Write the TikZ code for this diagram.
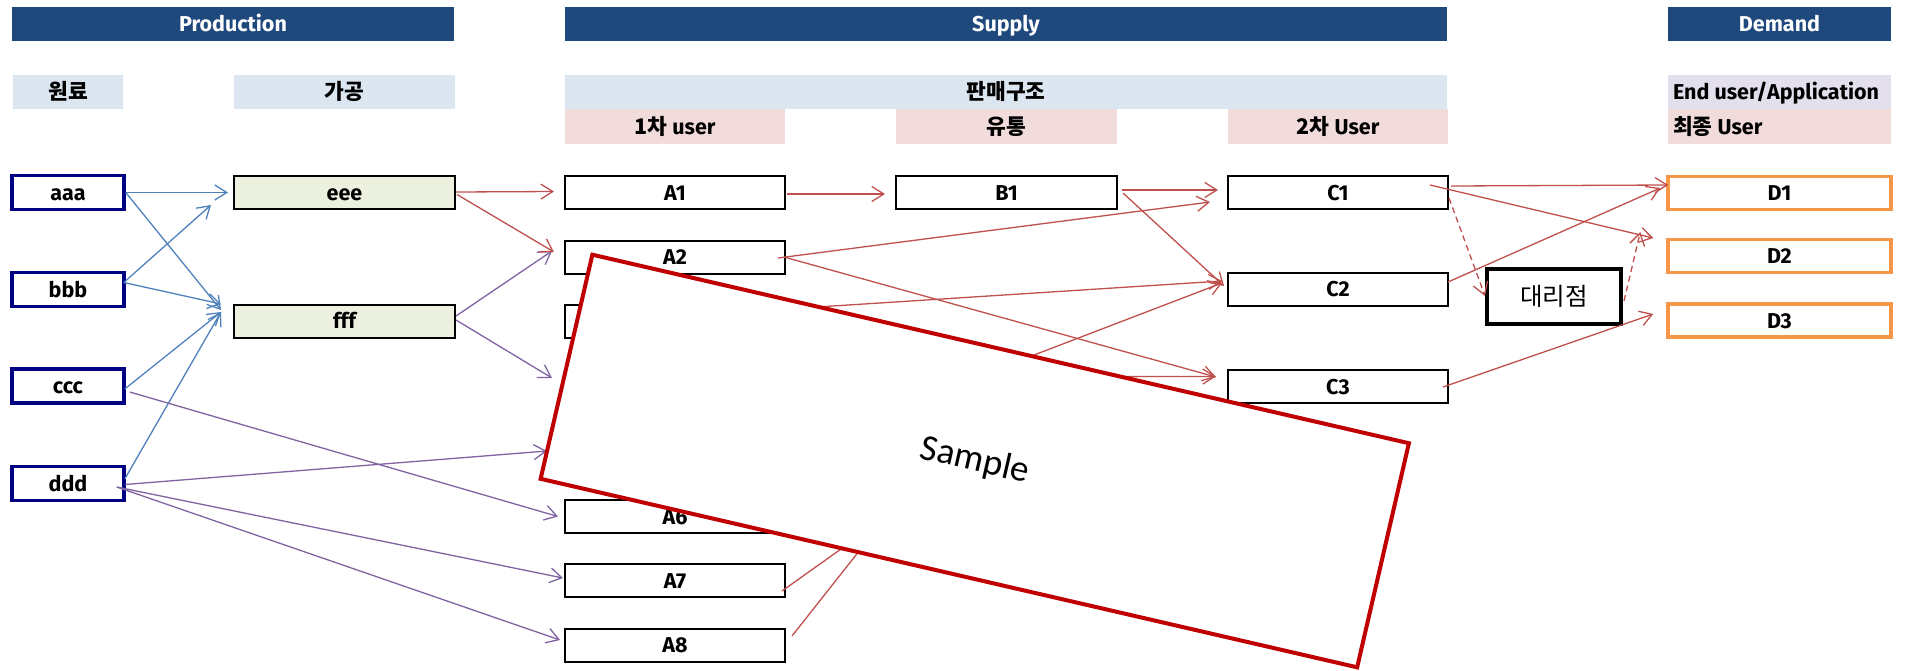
\documentclass[tikz,border=0pt]{standalone}
\usepackage{fontspec}
\setmainfont{Fira Sans}
\newfontfamily\kr{Noto Sans CJK KR}
\newfontfamily\carlito{Carlito}
\usetikzlibrary{arrows.meta,calc}
\definecolor{hdrblue}{HTML}{1F497D}
\definecolor{subblue}{HTML}{DCE6F1}
\definecolor{pinkc}{HTML}{F2DCDB}
\definecolor{lavender}{HTML}{E4DFEC}
\definecolor{procgreen}{HTML}{EBF1DE}
\definecolor{navyc}{HTML}{000080}
\definecolor{dorange}{HTML}{F79646}
\definecolor{lineblue}{HTML}{4F81BD}
\definecolor{linepurple}{HTML}{8064A2}
\definecolor{linered}{HTML}{C0504D}
\definecolor{samplered}{HTML}{C00000}
\begin{document}
\begin{tikzpicture}[x=1pt,y=-1pt,
  lbl/.style={font=\bfseries\fontsize{21.5}{26}\selectfont, inner sep=0pt, text height=16pt, text depth=1pt},
  hdr/.style={lbl, fill=hdrblue, text=white, minimum height=34pt},
  sub/.style={lbl, fill=subblue, minimum height=34pt},
  pnk/.style={lbl, fill=pinkc, minimum height=35pt},
  rawbox/.style={lbl, draw=navyc, line width=3.5pt, fill=white, minimum width=112pt, minimum height=34pt},
  procbox/.style={lbl, draw=black, line width=2pt, fill=procgreen, minimum width=221pt, minimum height=33pt},
  sbox/.style={lbl, draw=black, line width=2pt, fill=white, minimum width=220pt, minimum height=33pt},
  dbox/.style={lbl, draw=dorange, line width=3.5pt, fill=white, minimum width=223pt, minimum height=33pt},
  agentbox/.style={draw=black, line width=4pt, fill=white, minimum width=134pt, minimum height=55pt, inner sep=0pt, font=\kr\fontsize{24.5}{28}\selectfont},
  conn/.style={line width=1.3pt, -{Straight Barb[length=12pt,width=15pt]}},
  bl/.style={conn, draw=lineblue},
  pu/.style={conn, draw=linepurple},
  rd/.style={conn, draw=linered},
  rdd/.style={rd, dash pattern=on 6pt off 4pt}
]
\fill[white] (0,0) rectangle (1908,670);
\useasboundingbox (0,0) rectangle (1908,670);

% headers
\node[hdr, minimum width=442pt] (hprod) at (233,24) {Production};
\node[hdr, minimum width=882pt] (hsup) at (1006,24) {Supply};
\node[hdr, minimum width=223pt] (hdem) at (1779.5,24) {Demand};
\node[sub, minimum width=110pt] (hraw) at (68,92) {\kr 원료};
\node[sub, minimum width=221pt] (hproc) at (344.5,92) {\kr 가공};
\node[sub, minimum width=882pt] (hsale) at (1006,92) {\kr 판매구조};
\node[pnk, minimum width=220pt] (hfirst) at (675,126.5) {{\kr 1차} user};
\node[pnk, minimum width=221pt] (hdist) at (1006.5,126.5) {\kr 유통};
\node[pnk, minimum width=220pt] (hsecond) at (1338,126.5) {{\kr 2차} User};
\node[sub, fill=lavender, minimum width=223pt] (hend) at (1779.5,92) {\makebox[213pt][l]{End user/Application}};
\node[pnk, minimum width=223pt] (hfinal) at (1779.5,126.5) {\makebox[213pt][l]{{\kr 최종} User}};

% boxes
\node[rawbox] (aaa) at (68,192.5) {aaa};
\node[rawbox] (bbb) at (68,289.5) {bbb};
\node[rawbox] (ccc) at (68,386) {ccc};
\node[rawbox] (ddd) at (68,483.5) {ddd};
\node[procbox] (eee) at (344.5,192.5) {eee};
\node[procbox] (fff) at (344.5,321) {fff};
\node[sbox] (A1) at (675,192.5) {A1};
\node[sbox] (A2) at (675,257) {A2};
\node[sbox] (A3) at (675,321.5) {};
\node[sbox] (A4) at (675,387) {};
\node[sbox] (A5) at (675,452) {};
\node[sbox] (A6) at (675,516.5) {A6};
\node[sbox] (A7) at (675,580.5) {A7};
\node[sbox] (A8) at (675,645) {A8};
\node[sbox, minimum width=221pt] (B1) at (1006.5,192.5) {B1};
\node[sbox] (C1) at (1338,192.5) {C1};
\node[sbox] (C2) at (1338,289) {C2};
\node[sbox] (C3) at (1338,386.5) {C3};
\node[agentbox] (agent) at (1554,296.5) {대리점};
\node[dbox] (D1) at (1779.5,193) {D1};
\node[dbox] (D2) at (1779.5,256) {D2};
\node[dbox] (D3) at (1779.5,320.5) {D3};
\coordinate (hidB) at (886,517);

% blue connectors
\draw[bl] (aaa.east) -- ($(eee.west)+(-5,0)$);
\draw[bl] (aaa.east) -- ($(fff.west)+(-12,-11)$);
\draw[bl] ($(bbb.east)+(-2,-7)$) -- ($(eee.south west)+(-22,-5)$);
\draw[bl] ($(bbb.east)+(-2,-7)$) -- ($(fff.west)+(-12,-17)$);
\draw[bl] ($(ccc.east)+(-1,3)$) -- ($(fff.west)+(-12,-9)$);
\draw[bl] ($(ddd.east)+(-1,-4.5)$) -- ($(fff.west)+(-12,-9)$);

% purple connectors
\draw[pu] ($(fff.east)+(0,-5)$) -- ($(A2.west)+(-12,-6)$);
\draw[pu] ($(fff.east)+(0,-1)$) -- ($(A4.west)+(-12,-9)$);
\draw[pu] ($(ccc.east)+(4,6)$) -- ($(A6.west)+(-6,0)$);
\draw[pu] ($(ddd.east)+(-1,1)$) -- ($(A5.west)+(-17,-1)$);
\draw[pu] ($(ddd.east)+(-9,3.5)$) -- ($(A7.west)+(-1,-2.5)$);
\draw[pu] ($(ddd.east)+(-9,3.5)$) -- ($(A8.west)+(-4,-5)$);

% red connectors
\draw[rd] ($(eee.east)+(0,-0.5)$) -- ($(A1.west)+(-10,-1)$);
\draw[rd] ($(eee.east)+(1,2)$) -- ($(A2.west)+(-10,-5)$);
\draw[rd] ($(A1.east)+(1,1.5)$) -- ($(B1.west)+(-10,1.5)$);
\draw[rd] ($(B1.east)+(4,-2.5)$) -- ($(C1.west)+(-9,-2.5)$);
\draw[rd] ($(B1.east)+(5,0.5)$) -- ($(C2.west)+(-3,-3)$);
\draw[rd] ($(A2.east)+(-8,1)$) -- ($(C1.west)+(-17,9.5)$);
\draw[rd] ($(A2.east)+(-2,0)$) -- ($(C3.west)+(-11,-9.5)$);
\draw[rd] ($(A3.east)+(0,-12.5)$) -- ($(C2.west)+(-5,-8)$);
\draw[rd] ($(A5.east)+(0,-2)$) -- ($(C2.west)+(-5,-6)$);
\draw[rd] ($(A4.east)+(0,-10)$) -- ($(C3.west)+(-11,-10)$);
\draw[rd] ($(A7.east)+(-4,10.5)$) -- (hidB);
\draw[rd] ($(A8.east)+(6,-9)$) -- (hidB);
\draw[rd] ($(C1.east)+(2,-6.5)$) -- ($(D1.west)+(2,-8)$);
\draw[rd] ($(C1.east)+(-19,-7.5)$) -- ($(D2.west)+(-13,-18)$);
\draw[rdd] ($(C1.east)+(0,5.5)$) -- ($(agent.west)+(0,-0.5)$);
\draw[rd] ($(C2.east)+(-1,-7)$) -- ($(D1.west)+(-6,-5)$);
\draw[rdd] ($(agent.east)+(1,4.5)$) -- ($(D2.west)+(-26,-24)$);
\draw[rd] ($(C3.east)+(-6,0.5)$) -- ($(D3.west)+(-13,-6.5)$);

% sample overlay
\node[draw=samplered, line width=4pt, fill=white, minimum width=838pt, minimum height=230pt, inner sep=0pt, rotate=-13, font=\carlito\fontsize{37}{44}\selectfont] (sample) at (974.75,461) {Sample};
\end{tikzpicture}
\end{document}
